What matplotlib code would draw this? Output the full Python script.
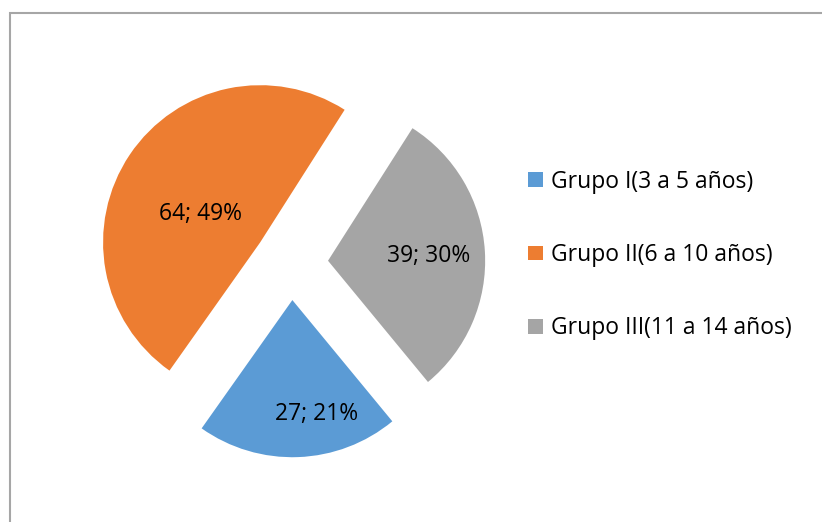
import numpy as np
import matplotlib
matplotlib.use('Agg')
import matplotlib.pyplot as plt
from matplotlib.patches import Rectangle

# data
grupos = ['Grupo I(3 a 5 años)', 'Grupo II(6 a 10 años)', 'Grupo III(11 a 14 años)']
valores = [27, 64, 39]
colores = ['#5B9BD5', '#ED7D31', '#A5A5A5']

plt.rcParams['font.family'] = ['Open Sans', 'DejaVu Sans']

fig = plt.figure(figsize=(8.22, 5.22), dpi=100)

# chart area border (only top/left visible)
fig.add_artist(Rectangle((10 / 822, -0.1), 1.2, 1 - 13 / 522 + 0.1,
                         transform=fig.transFigure, fill=False,
                         edgecolor='#a6a6a6', lw=1.5))

# pie axes: centre at (291, 263) px, radius 157 px
ax = fig.add_axes([71 / 822, 39 / 522, 440 / 822, 440 / 522])
wedges, _ = ax.pie(valores, colors=colores, startangle=309.5, counterclock=False,
                   explode=[0.236] * 3, radius=1.0,
                   wedgeprops=dict(linewidth=0))
ax.set_xlim(-1.4, 1.4)
ax.set_ylim(-1.4, 1.4)
ax.set_aspect('equal')
ax.axis('off')

total = sum(valores)
# label placement relative to each exploded wedge: (angle offset deg, distance)
lab_pos = [(10, 0.74), (8, 0.42), (-1, 0.64)]
for w, v, (da, dist) in zip(wedges, valores, lab_pos):
    cx, cy = w.center
    mid = np.deg2rad((w.theta1 + w.theta2) / 2 + da)
    pct = round(100 * v / total)
    ax.text(cx + dist * np.cos(mid), cy + dist * np.sin(mid), f'{v}; {pct}%',
            ha='center', va='center', fontsize=16.5, color='black')

fig.legend(wedges, grupos, loc='center left', bbox_to_anchor=(517 / 822, 1 - 255 / 522),
           frameon=False, fontsize=16.5, handlelength=0.62, handleheight=0.62,
           handletextpad=0.35, labelspacing=2.15, borderpad=0)

fig.savefig('out.png', dpi=100)
